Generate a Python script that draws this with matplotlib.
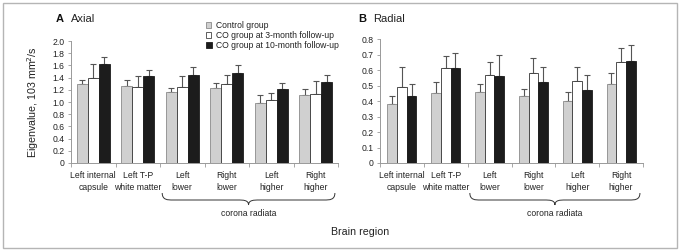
import matplotlib
matplotlib.use("Agg")
import matplotlib.pyplot as plt
import numpy as np
from matplotlib.path import Path
from matplotlib.patches import PathPatch, Rectangle
import matplotlib.transforms as mtrans

plt.rcParams['font.family'] = ['Liberation Sans', 'DejaVu Sans']

categories = ["Left internal\ncapsule", "Left T-P\nwhite matter", "Left\nlower",
              "Right\nlower", "Left\nhigher", "Right\nhigher"]
series_names = ["Control group", "CO group at 3-month follow-up", "CO group at 10-month follow-up"]

axial_control = [1.30, 1.27, 1.16, 1.23, 0.98, 1.12]
axial_control_err = [0.06, 0.09, 0.07, 0.08, 0.13, 0.09]
axial_3m = [1.40, 1.24, 1.25, 1.29, 1.03, 1.13]
axial_3m_err = [0.23, 0.19, 0.17, 0.16, 0.11, 0.22]
axial_10m = [1.63, 1.42, 1.45, 1.48, 1.22, 1.32]
axial_10m_err = [0.10, 0.10, 0.13, 0.12, 0.09, 0.13]

radial_control = [0.38, 0.45, 0.46, 0.43, 0.40, 0.51]
radial_control_err = [0.05, 0.07, 0.05, 0.05, 0.06, 0.07]
radial_3m = [0.49, 0.61, 0.57, 0.58, 0.53, 0.65]
radial_3m_err = [0.13, 0.08, 0.08, 0.10, 0.09, 0.09]
radial_10m = [0.43, 0.61, 0.56, 0.52, 0.47, 0.66]
radial_10m_err = [0.08, 0.10, 0.14, 0.10, 0.10, 0.10]

colors = ["#d0d0d0", "#ffffff", "#1c1c1c"]
edges = ["#8a8a8a", "#333333", "#1c1c1c"]

W, H = 680, 252
fig = plt.figure(figsize=(W / 100, H / 100), dpi=100)

def fx(px):
    return px / W

def fy(py):
    return 1 - py / H

# outer frame
fig.patches.append(Rectangle((fx(3), fy(248)), fx(674), 245 / H, transform=fig.transFigure,
                             fill=False, edgecolor="#b5b5b5", linewidth=1.0))

def panel(rect, vals, errs, ylim, yticks, yticklabels, bw, letter, title, title_px):
    ax = fig.add_axes(rect)
    n = len(categories)
    x = np.arange(n) + 0.5
    offs = [-bw, 0, bw]
    for i in range(3):
        ax.bar(x + offs[i], vals[i], width=bw, color=colors[i], edgecolor=edges[i],
               linewidth=0.6, zorder=2)
        ax.errorbar(x + offs[i], vals[i], yerr=[np.zeros(n), errs[i]], fmt="none",
                    ecolor="#555555", elinewidth=0.8, capsize=2.2, capthick=0.8, zorder=1)
    ax.set_xlim(0, n)
    ax.set_ylim(*ylim)
    ax.set_yticks(yticks)
    ax.set_yticklabels(yticklabels, fontsize=6.2, color="#222222")
    ax.set_xticks(np.arange(n + 1))
    ax.set_xticklabels([])
    ax.set_xticks(x, minor=True)
    ax.set_xticklabels(categories, minor=True, fontsize=6.2, color="#222222", linespacing=1.35)
    ax.tick_params(axis="x", which="minor", length=0, pad=6)
    ax.tick_params(axis="x", which="major", length=3, width=0.6, color="#999999", direction="out")
    ax.tick_params(axis="y", length=2.5, width=0.6, color="#999999", pad=2)
    for s in ["top", "right"]:
        ax.spines[s].set_visible(False)
    for s in ["left", "bottom"]:
        ax.spines[s].set_color("#999999")
        ax.spines[s].set_linewidth(0.7)

    # brace under categories 3-6
    tr = mtrans.blended_transform_factory(ax.transData, fig.transFigure)
    x0, x1 = 2.05, 5.93
    xm = (x0 + x1) / 2
    yt, yb, ytip = fy(193), fy(200), fy(205)
    d = 0.12
    verts = [(x0, yt), (x0, yb), (x0 + d, yb), (x0 + 2 * d, yb),
             (xm - 2 * d, yb),
             (xm - d, yb), (xm, yb), (xm, ytip),
             (xm, yb), (xm + d, yb), (xm + 2 * d, yb),
             (x1 - 2 * d, yb),
             (x1 - d, yb), (x1, yb), (x1, yt)]
    codes = [Path.MOVETO, Path.CURVE4, Path.CURVE4, Path.CURVE4,
             Path.LINETO,
             Path.CURVE4, Path.CURVE4, Path.CURVE4,
             Path.CURVE4, Path.CURVE4, Path.CURVE4,
             Path.LINETO,
             Path.CURVE4, Path.CURVE4, Path.CURVE4]
    pp = PathPatch(Path(verts, codes), transform=tr, fill=False, edgecolor="#333333",
                   linewidth=0.7, clip_on=False)
    ax.add_patch(pp)
    ax.text(xm, fy(214), "corona radiata", transform=tr, ha="center", va="center",
            fontsize=6.2, color="#222222")

    fig.text(fx(title_px), fy(19), letter, fontsize=8, fontweight="bold", ha="left",
             va="center", color="#111111")
    fig.text(fx(title_px + 15), fy(19), title, fontsize=8, ha="left", va="center",
             color="#222222")
    return ax

axA = panel([fx(71), fy(163), fx(338 - 71), (163 - 41) / H],
            [axial_control, axial_3m, axial_10m],
            [axial_control_err, axial_3m_err, axial_10m_err],
            (0, 2.0), np.arange(0, 2.01, 0.2),
            ["0"] + [f"{v:.1f}" for v in np.arange(0.2, 2.01, 0.2)], 0.245,
            "A", "Axial", 56)

axB = panel([fx(380), fy(163), fx(643 - 380), (163 - 39) / H],
            [radial_control, radial_3m, radial_10m],
            [radial_control_err, radial_3m_err, radial_10m_err],
            (0, 0.8), np.arange(0, 0.81, 0.1),
            ["0"] + [f"{v:.1f}" for v in np.arange(0.1, 0.81, 0.1)], 0.22,
            "B", "Radial", 358)

# legend (manual)
leg_y = [25, 35, 45]
sizes = [5, 5, 6]
for i, name in enumerate(series_names):
    s = sizes[i]
    fig.patches.append(Rectangle((fx(209 - s / 2), fy(leg_y[i] + s / 2)), s / W, s / H,
                                 transform=fig.transFigure, facecolor=colors[i],
                                 edgecolor=edges[i] if i != 1 else "#444444", linewidth=0.6))
    fig.text(fx(216), fy(leg_y[i]), name, fontsize=6.2, ha="left", va="center", color="#222222")

fig.text(fx(33), fy(102), "Eigenvalue, 103 mm$^2$/s", rotation=90, fontsize=7.7,
         ha="center", va="center", color="#222222")
fig.text(fx(360), fy(232), "Brain region", fontsize=7.7, ha="center", va="center",
         color="#222222")

fig.savefig("out.png", dpi=100)
